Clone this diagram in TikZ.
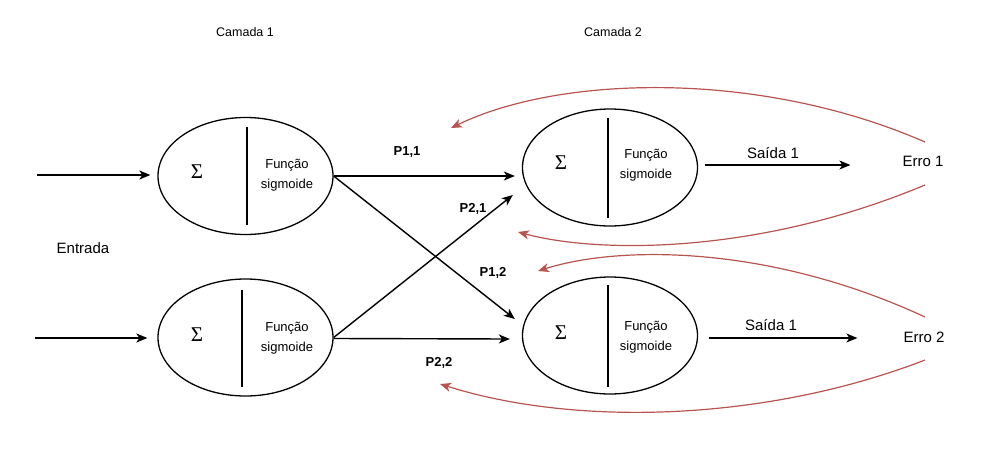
\documentclass[tikz,border=0pt]{standalone}
\usepackage{fontspec}
\setmainfont{Liberation Sans}
\newfontfamily\sigmafont{Liberation Serif}
\usetikzlibrary{shapes, arrows}
\usetikzlibrary{arrows,calc,arrows.meta}
\usetikzlibrary{positioning}

\begin{document}
\begin{tikzpicture}[x=1pt,y=-1pt,
		neuron/.style={draw,ellipse,line width=1.3pt,minimum width=175pt,minimum height=117pt,inner sep=0pt},
		seta/.style={-{Stealth[length=11pt,width=9pt,inset=3pt]},line width=1.4pt},
		volta/.style={-{Stealth[length=11pt,width=9pt,inset=3pt]},line width=1.2pt,draw=errocolor,fill=none},
		soma/.style={font=\sigmafont\fontsize{21}{21}\selectfont,inner sep=0pt},
		funcao/.style={align=center,font=\fontsize{13}{20}\selectfont,inner sep=0pt},
		peso/.style={font=\bfseries\fontsize{13}{15}\selectfont,inner sep=0pt},
		rotulo/.style={font=\fontsize{15}{18}\selectfont,inner sep=0pt}]

		    \definecolor{errocolor}{rgb}{0.72,0.33,0.31}
		    \useasboundingbox (0,0) rectangle (1004,458);

% 		    camadas
		    \node(cam1) [font=\fontsize{12.5}{15}\selectfont] at (245,32) {Camada 1};
		    \node(cam2) [font=\fontsize{12.5}{15}\selectfont] at (613,32) {Camada 2};

		    \node(n11) [neuron] at (245.5,176) {};
		    \node(n12) [neuron] at (245.5,337.5) {};
		    \node(n21) [neuron] at (610,167.5) {};
		    \node(n22) [neuron] at (610,335.5) {};

		    \draw[line width=1.3pt] ($(n11.north)+(1.5,10)$) -- ($(n11.south)+(1.5,-10)$);
		    \draw[line width=1.3pt] ($(n12.north)+(-3.5,12)$) -- ($(n12.south)+(-3.5,-10)$);
		    \draw[line width=1.3pt] ($(n21.north)+(-2,10)$) -- ($(n21.south)+(-2,-9)$);
		    \draw[line width=1.3pt] ($(n22.north)+(-2,9)$) -- ($(n22.south)+(-2,-8)$);

		    \node(s11) [soma] at (197,172) {Σ};
		    \node(s12) [soma] at (197,335) {Σ};
		    \node(s21) [soma] at (561,163) {Σ};
		    \node(s22) [soma] at (561,333) {Σ};

		    \node(f11) [funcao] at (287,175) {Função\\sigmoide};
		    \node(f12) [funcao] at (287,338) {Função\\sigmoide};
		    \node(f21) [funcao] at (646,165) {Função\\sigmoide};
		    \node(f22) [funcao] at (646,337) {Função\\sigmoide};

% 		    entradas
		    \node(entrada) [rotulo] at (83,248) {Entrada};
		    \coordinate (in1) at (37,175);
		    \coordinate (in2) at (35,338);
		    \draw[seta] (in1) -- ($(n11.west)+(-7,-1)$);
		    \draw[seta] (in2) -- ($(n12.west)+(-10,0.5)$);

% 		    pesos
		    \draw[seta] (n11.east) -- ($(n21.west)+(-7,8.5)$);
		    \draw[seta] (n11.east) -- ($(n22.west)+(-7,-16.5)$);
		    \draw[seta] (n12.east) -- ($(n21.west)+(-9,27.5)$);
		    \draw[seta] ($(n12.east)+(0,1)$) -- ($(n22.west)+(-12,3.5)$);

		    \node(p11) [peso] at (407,152) {P1,1};
		    \node(p21) [peso] at (473,209) {P2,1};
		    \node(p12) [peso] at (493,273) {P1,2};
		    \node(p22) [peso] at (439,363) {P2,2};

% 		    saidas
		    \node(erro1) [rotulo] at (923,161) {Erro 1};
		    \node(erro2) [rotulo] at (924,337) {Erro 2};
		    \draw[seta] ($(n21.east)+(7,-2.5)$) -- ($(erro1.west)+(-52,4)$);
		    \draw[seta] ($(n22.east)+(11,2.5)$) -- ($(erro2.west)+(-46,1)$);
		    \node(saida1) [rotulo] at (773,153) {Saída 1};
		    \node(saida2) [rotulo] at (771,325) {Saída 1};

% 		    retropropagacao
		    \coordinate (r1) at (925,142);
		    \coordinate (r2) at (925,185);
		    \coordinate (r3) at (925,317);
		    \coordinate (r4) at (925,360);
		    \coordinate (t1) at (451,128);
		    \coordinate (t2) at (518,232);
		    \coordinate (t3) at (538,271);
		    \coordinate (t4) at (440,384);
		    \draw[volta] (r1) .. controls (760,70) and (560,75) .. (t1);
		    \draw[volta] (r2) .. controls (760,254) and (600,254) .. (t2);
		    \draw[volta] (r3) .. controls (770,245) and (620,245) .. (t3);
		    \draw[volta] (r4) .. controls (770,420) and (580,428) .. (t4);

\end{tikzpicture}
\end{document}
